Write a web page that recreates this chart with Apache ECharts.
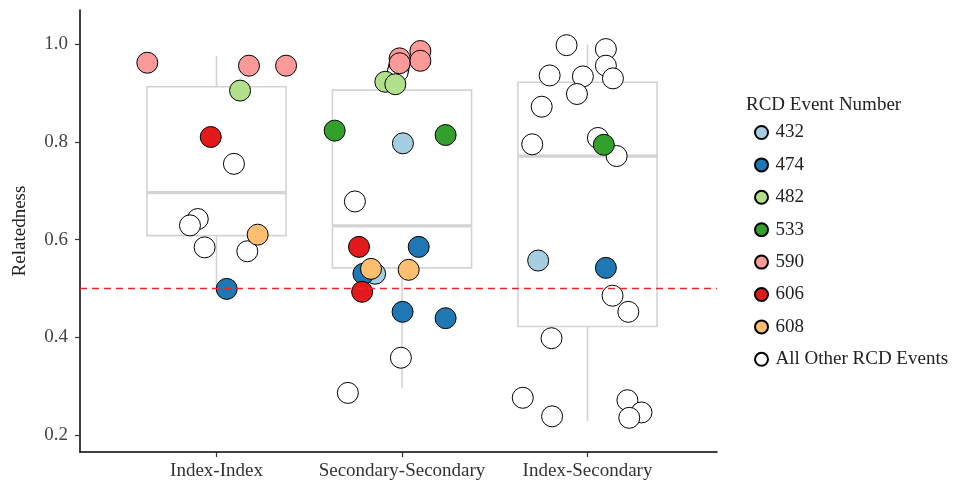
<!DOCTYPE html>
<html lang="en">
<head>
    <meta charset="UTF-8"/>
    <title>Relatedness by pair type</title>
    <script src="https://cdn.jsdelivr.net/npm/echarts@6/dist/echarts.min.js"></script>
    <style>
        html, body { margin: 0; padding: 0; background: #fff; }
        #chart { width: 977px; height: 487px; }
    </style>
</head>
<body>
<div id="chart"></div>
<script type="text/javascript">
    // categories on the x axis (placed at 1, 2, 3)
    var categories = ['Index-Index', 'Secondary-Secondary', 'Index-Secondary'];
    var yTicks = [0.2, 0.4, 0.6, 0.8, 1.0];

    // box stats per category: [lower whisker, Q1, median, Q3, upper whisker]
    var boxIndexIndex = [0.497, 0.608, 0.696, 0.913, 0.976];
    var boxSecSec = [0.296, 0.542, 0.628, 0.906, 0.985];
    var boxIndexSec = [0.228, 0.422, 0.771, 0.922, 0.999];

    // jittered points: [x position, relatedness]
    var pts432 = [[2.005, 0.797], [1.855, 0.530], [2.734, 0.557]];
    var pts474 = [[1.055, 0.499], [2.090, 0.585], [1.792, 0.530], [2.003, 0.452], [2.235, 0.439], [3.099, 0.542]];
    var pts482 = [[1.127, 0.905], [1.910, 0.923], [1.964, 0.918]];
    var pts533 = [[1.637, 0.823], [2.235, 0.814], [3.088, 0.794]];
    var pts590 = [[0.627, 0.962], [1.175, 0.956], [1.375, 0.956], [2.099, 0.986], [2.099, 0.966], [1.987, 0.971], [1.987, 0.961]];
    var pts606 = [[0.969, 0.810], [1.768, 0.585], [1.785, 0.493]];
    var pts608 = [[1.222, 0.610], [1.833, 0.540], [2.036, 0.538]];
    var ptsOther = [
        [1.094, 0.755], [0.899, 0.642], [0.857, 0.629], [0.936, 0.584], [1.166, 0.576],
        [1.982, 0.951], [1.977, 0.943], [1.746, 0.678], [1.994, 0.358], [1.708, 0.286],
        [2.887, 0.998], [3.099, 0.990], [2.796, 0.936], [2.975, 0.934], [3.099, 0.956], [3.137, 0.930],
        [2.943, 0.898], [2.753, 0.872], [2.702, 0.795], [3.056, 0.808], [3.157, 0.771], [3.135, 0.485],
        [3.220, 0.452], [2.806, 0.398], [2.651, 0.276], [2.809, 0.238], [3.215, 0.271], [3.291, 0.246],
        [3.225, 0.235]
    ];

    var groupNames = ['432', '474', '482', '533', '590', '606', '608', 'All Other RCD Events'];
    var groupPoints = [pts432, pts474, pts482, pts533, pts590, pts606, pts608, ptsOther];
    var groupColors = ['#A6CEE3', '#1F78B4', '#B2DF8A', '#33A02C', '#FB9A99', '#E31A1C', '#FDBF6F', '#FFFFFF'];

    var fontFamily = '"Liberation Serif", "DejaVu Serif", serif';
    var boxWidth = 0.75;
    var boxColor = '#d3d3d3';

    var boxData = [boxIndexIndex, boxSecSec, boxIndexSec].map(function (s, i) {
        return [i + 1].concat(s);
    });

    function renderBox(params, api) {
        var x = api.value(0);
        var lo = api.coord([x, api.value(1)]);
        var q1 = api.coord([x, api.value(2)]);
        var med = api.coord([x, api.value(3)]);
        var q3 = api.coord([x, api.value(4)]);
        var hi = api.coord([x, api.value(5)]);
        var halfW = api.coord([x + boxWidth / 2, api.value(3)])[0] - lo[0];
        var st = {stroke: boxColor, lineWidth: 1.6, fill: null};
        return {
            type: 'group',
            children: [
                {type: 'line', shape: {x1: lo[0], y1: hi[1], x2: lo[0], y2: q3[1]}, style: st},
                {type: 'line', shape: {x1: lo[0], y1: q1[1], x2: lo[0], y2: lo[1]}, style: st},
                {type: 'rect', shape: {x: lo[0] - halfW, y: q3[1], width: halfW * 2, height: q1[1] - q3[1]}, style: st},
                {type: 'line', shape: {x1: lo[0] - halfW, y1: med[1], x2: lo[0] + halfW, y2: med[1]},
                    style: {stroke: boxColor, lineWidth: 3.2}}
            ]
        };
    }

    var series = [{
        type: 'custom',
        name: 'box',
        renderItem: renderBox,
        encode: {x: 0, y: [1, 2, 3, 4, 5]},
        data: boxData,
        z: 1,
        silent: true,
        markLine: {
            silent: true,
            symbol: 'none',
            label: {show: false},
            lineStyle: {color: '#E8262B', type: [7, 5], width: 1.4},
            data: [{yAxis: 0.5}]
        }
    }];

    // "All Other" drawn first so coloured events sit on top
    var order = [7, 0, 1, 2, 3, 4, 5, 6];
    order.forEach(function (g) {
        series.push({
            type: 'scatter',
            name: groupNames[g],
            data: groupPoints[g],
            symbol: 'circle',
            symbolSize: 21,
            z: 3,
            itemStyle: {color: groupColors[g], borderColor: '#000', borderWidth: 1, opacity: 1}
        });
    });

    var myChart = echarts.init(document.getElementById('chart'));
    var option = {
        animation: false,
        backgroundColor: '#fff',
        title: {
            text: 'RCD Event Number',
            left: 741,
            top: 90,
            textStyle: {fontFamily: fontFamily, fontSize: 19, fontWeight: 'normal', color: '#222', lineHeight: 20}
        },
        legend: {
            orient: 'vertical',
            left: 749,
            top: 118,
            data: groupNames,
            icon: 'circle',
            itemWidth: 18,
            itemHeight: 13,
            itemGap: 13.4,
            selectedMode: false,
            textStyle: {fontFamily: fontFamily, fontSize: 19, color: '#222', lineHeight: 18}
        },
        grid: {left: 80, right: 260, top: 10, bottom: 35, containLabel: false},
        xAxis: {
            type: 'value',
            min: 0.2642,
            max: 3.698,
            splitLine: {show: false},
            axisLine: {show: true, lineStyle: {color: '#000', width: 1.5}},
            axisTick: {show: true, customValues: [1, 2, 3], length: 5, lineStyle: {color: '#333', width: 1.2}},
            axisLabel: {
                customValues: [1, 2, 3],
                margin: 10,
                fontFamily: fontFamily,
                fontSize: 19,
                color: '#333',
                formatter: function (v) { return categories[Math.round(v) - 1]; }
            }
        },
        yAxis: {
            type: 'value',
            min: 0.165,
            max: 1.07,
            name: 'Relatedness',
            nameLocation: 'middle',
            nameGap: 50,
            nameTextStyle: {fontFamily: fontFamily, fontSize: 19, color: '#222'},
            splitLine: {show: false},
            axisLine: {show: true, lineStyle: {color: '#000', width: 1.5}},
            axisTick: {show: true, customValues: yTicks, length: 5, lineStyle: {color: '#333', width: 1.2}},
            axisLabel: {
                customValues: yTicks,
                margin: 12,
                fontFamily: fontFamily,
                fontSize: 19,
                color: '#444',
                formatter: function (v) { return v.toFixed(1); }
            }
        },
        series: series
    };
    myChart.setOption(option);
</script>
</body>
</html>
